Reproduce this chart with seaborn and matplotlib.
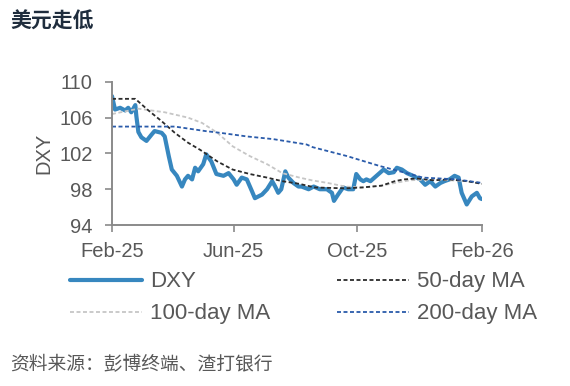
import pandas as pd
import seaborn as sns
import matplotlib.pyplot as plt
import matplotlib.dates as mdates

# data
dxy_dates = ["2025-02-01", "2025-02-04", "2025-02-09", "2025-02-14", "2025-02-17", "2025-02-20",
             "2025-02-24", "2025-02-25", "2025-02-27", "2025-03-02", "2025-03-07", "2025-03-12",
             "2025-03-15", "2025-03-22", "2025-03-25", "2025-03-29", "2025-04-01", "2025-04-06",
             "2025-04-11", "2025-04-14", "2025-04-17", "2025-04-21", "2025-04-24", "2025-04-27",
             "2025-05-02", "2025-05-05", "2025-05-10", "2025-05-15", "2025-05-22", "2025-05-27",
             "2025-06-01", "2025-06-04", "2025-06-09", "2025-06-14", "2025-06-19", "2025-06-22",
             "2025-06-29", "2025-07-04", "2025-07-09", "2025-07-12", "2025-07-15", "2025-07-18",
             "2025-07-22", "2025-07-25", "2025-07-30", "2025-08-04", "2025-08-07", "2025-08-14",
             "2025-08-19", "2025-08-25", "2025-09-01", "2025-09-06", "2025-09-08", "2025-09-12",
             "2025-09-17", "2025-09-22", "2025-09-27", "2025-09-30", "2025-10-04", "2025-10-07",
             "2025-10-10", "2025-10-14", "2025-10-18", "2025-10-23", "2025-10-27", "2025-11-01",
             "2025-11-06", "2025-11-09", "2025-11-14", "2025-11-19", "2025-11-25", "2025-12-02",
             "2025-12-07", "2025-12-12", "2025-12-17", "2025-12-22", "2025-12-26", "2025-12-31",
             "2026-01-05", "2026-01-09", "2026-01-12", "2026-01-17", "2026-01-22", "2026-01-27",
             "2026-01-30", "2026-02-01"]
dxy = [108.4, 106.9, 107.1, 106.8, 107.1, 106.6,
       107.4, 106.2, 104.4, 103.8, 103.4, 104.1,
       104.5, 104.3, 103.9, 101.7, 100.2, 99.5,
       98.3, 99.1, 99.5, 99.1, 100.4, 100.0,
       100.8, 101.9, 101.1, 99.7, 99.5, 99.8,
       99.1, 98.5, 99.3, 99.1, 97.8, 97.0,
       97.4, 98.0, 98.9, 98.3, 97.6, 98.0,
       100.0, 99.3, 98.7, 98.3, 98.3, 98.0,
       98.3, 98.0, 98.0, 97.6, 96.7, 97.4,
       98.2, 98.0, 98.0, 99.7, 99.1, 98.9,
       99.1, 98.9, 99.3, 99.8, 100.2, 99.8,
       99.9, 100.4, 100.2, 99.8, 99.5, 99.1,
       98.5, 98.9, 98.3, 98.7, 98.9, 99.1,
       99.5, 99.3, 97.6, 96.3, 97.2, 97.6,
       97.0, 96.9]

ma50_dates = ["2025-02-01", "2025-02-24", "2025-03-09", "2025-03-22", "2025-04-04", "2025-04-17",
              "2025-04-29", "2025-05-16", "2025-05-31", "2025-06-17", "2025-07-04", "2025-07-19",
              "2025-08-05", "2025-08-20", "2025-09-19", "2025-10-06", "2025-10-25", "2025-11-07",
              "2025-11-16", "2025-11-29", "2025-12-15", "2025-12-31", "2026-01-17", "2026-02-01"]
ma50 = [108.1, 108.1, 106.8, 105.6, 104.3, 103.2,
        102.4, 101.1, 100.2, 99.7, 99.3, 98.9,
        98.6, 98.2, 98.1, 98.2, 98.4, 98.9,
        99.1, 99.2, 99.0, 99.1, 98.9, 98.6]

ma100_dates = ["2025-02-01", "2025-02-27", "2025-03-25", "2025-04-17", "2025-05-01", "2025-05-16",
               "2025-05-31", "2025-06-17", "2025-07-04", "2025-07-19", "2025-08-05", "2025-08-17",
               "2025-09-02", "2025-09-19", "2025-10-06", "2025-10-25", "2025-11-07", "2025-11-22",
               "2025-12-12", "2025-12-31", "2026-01-17", "2026-02-01"]
ma100 = [106.4, 107.0, 106.6, 106.0, 105.4, 104.3,
         102.8, 101.7, 100.8, 99.8, 99.3, 99.0,
         98.7, 98.3, 98.2, 98.4, 98.7, 99.0,
         99.1, 99.0, 98.9, 98.7]

ma200_dates = ["2025-02-01", "2025-03-01", "2025-04-04", "2025-05-04", "2025-05-19", "2025-06-14",
               "2025-07-10", "2025-08-12", "2025-08-18", "2025-09-21", "2025-10-23", "2025-11-02",
               "2025-12-05", "2026-01-07", "2026-02-01"]
ma200 = [105.0, 105.0, 105.0, 104.5, 104.3, 103.9,
         103.6, 103.0, 102.7, 101.7, 100.6, 100.3,
         99.3, 99.1, 98.7]

tick_dates = ["2025-02-01", "2025-06-01", "2025-10-01", "2026-02-01"]
y_ticks = [94, 98, 102, 106, 110]

# colors
c_dxy = "#3787BF"
c_50 = "#2B2B2B"
c_100 = "#C6C6C6"
c_200 = "#2A5BAA"
c_text = "#585858"

sns.set_style("ticks")
plt.rcParams['font.family'] = ['Liberation Sans', 'Noto Sans CJK SC', 'DejaVu Sans']

fig = plt.figure(figsize=(5.7, 3.86), dpi=100)
ax = fig.add_axes([0.1965, 0.417, 0.649, 0.371])

dash = dict(linewidth=1.3, dashes=(2.2, 1.4))
sns.lineplot(x=pd.to_datetime(dxy_dates), y=dxy, ax=ax, color=c_dxy, linewidth=3.0, label='DXY')
sns.lineplot(x=pd.to_datetime(ma100_dates), y=ma100, ax=ax, color=c_100, label='100-day MA', **dash)
sns.lineplot(x=pd.to_datetime(ma50_dates), y=ma50, ax=ax, color=c_50, label='50-day MA', **dash)
sns.lineplot(x=pd.to_datetime(ma200_dates), y=ma200, ax=ax, color=c_200, label='200-day MA', **dash)

ax.set_xlim(pd.Timestamp("2025-02-01"), pd.Timestamp("2026-02-01"))
ax.set_ylim(94, 110)
ax.set_xticks(pd.to_datetime(tick_dates))
ax.xaxis.set_major_formatter(mdates.DateFormatter('%b-%y'))
ax.set_yticks(y_ticks)
ax.tick_params(labelsize=14.5, labelcolor=c_text, color="#8A8A8A", length=5, width=1.2)
ax.tick_params(axis='y', pad=9)
ax.tick_params(axis='x', pad=7)
ax.set_ylabel("DXY", fontsize=14.5, color=c_text, labelpad=4)
ax.set_xlabel("")
for side in ["top", "right"]:
    ax.spines[side].set_visible(False)
for side in ["left", "bottom"]:
    ax.spines[side].set_color("#8A8A8A")
    ax.spines[side].set_linewidth(1.4)

# legend below the axes, two columns
handles, labels = ax.get_legend_handles_labels()
ax.get_legend().remove()
leg = fig.legend(handles, labels, ncol=2, loc='upper left', bbox_to_anchor=(0.122, 0.297),
                 frameon=False, fontsize=16, handlelength=3.25, handletextpad=0.36,
                 columnspacing=3.0, labelspacing=0.5, borderaxespad=0, borderpad=0)
for t in leg.get_texts():
    t.set_color(c_text)

# title and source
fig.text(0.018, 0.945, "美元走低", fontsize=15, fontweight='bold', color="#1F2D3D",
         family=['Noto Sans CJK SC', 'DejaVu Sans'], va='center')
fig.text(0.018, 0.055, "资料来源：彭博终端、渣打银行", fontsize=13.5, color=c_text,
         family=['Noto Sans CJK SC', 'DejaVu Sans'], va='center')

plt.savefig('out.png', dpi=100)
